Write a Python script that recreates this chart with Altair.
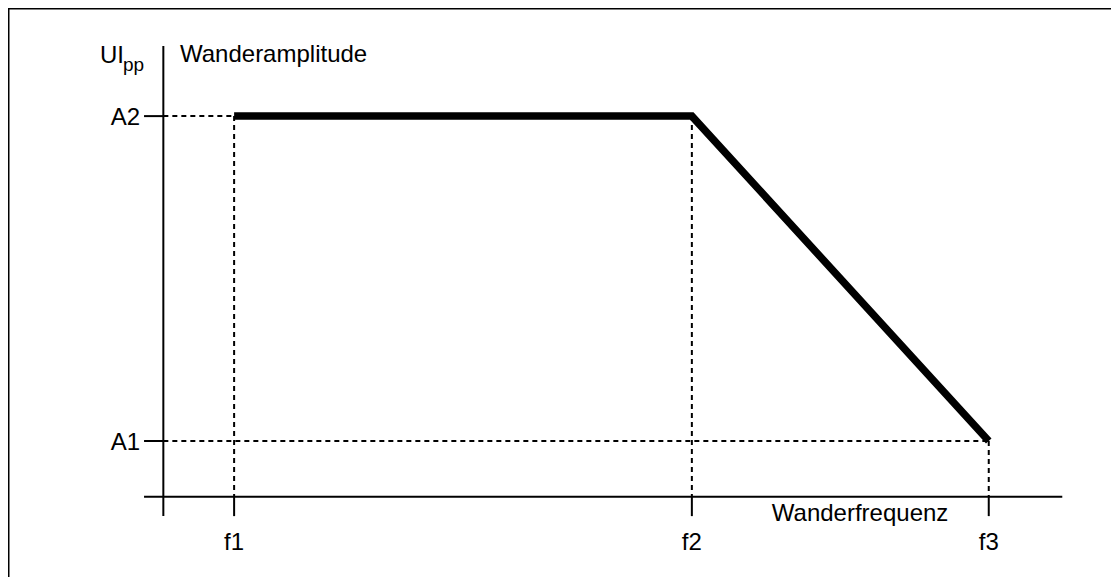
import altair as alt
import pandas as pd

# ---- data (abstract diagram units) ----
freq_labels = ["f1", "f2", "f3"]
freq_pos = [2.46, 7.44, 10.67]
amp_labels = ["A1", "A2"]
amp_pos = [2.39, 8.10]

# mask curve: flat at A2 from f1 to f2, then falling to A1 at f3
curve_x = [freq_pos[0], freq_pos[1], freq_pos[2]]
curve_y = [amp_pos[1], amp_pos[1], amp_pos[0]]

# axis geometry (diagram units)
y_axis_x = 1.69
x_axis_y = 1.41
x_axis_start = 1.48
x_axis_end = 11.47
y_axis_top = 9.33
y_axis_bottom = 1.07

X_MAX = 12.0
Y_MIN = 0.0
Y_MAX = 10.0

FONT = "Liberation Sans"
FS = 24

xs = alt.Scale(domain=[0, X_MAX], nice=False, zero=False)
ys = alt.Scale(domain=[Y_MIN, Y_MAX], nice=False, zero=False)

def X(field="x"):
    return alt.X(f"{field}:Q", scale=xs, axis=None)

def Y(field="y"):
    return alt.Y(f"{field}:Q", scale=ys, axis=None)

# frame (left and top edges only)
frame_rows = [
    {"x": 0.0, "x2": 0.0, "y": Y_MIN, "y2": Y_MAX},
    {"x": 0.0, "x2": X_MAX, "y": Y_MAX, "y2": Y_MAX},
]
frame = alt.Chart(pd.DataFrame(frame_rows)).mark_rule(
    color="black", strokeWidth=3
).encode(x=X(), x2="x2:Q", y=Y(), y2="y2:Q")

# dashed guide lines
dash_rows = [
    {"x": y_axis_x, "x2": freq_pos[0], "y": amp_pos[1], "y2": amp_pos[1]},
    {"x": y_axis_x, "x2": freq_pos[2], "y": amp_pos[0], "y2": amp_pos[0]},
    {"x": freq_pos[0], "x2": freq_pos[0], "y": amp_pos[1], "y2": x_axis_y},
    {"x": freq_pos[1], "x2": freq_pos[1], "y": amp_pos[1], "y2": x_axis_y},
    {"x": freq_pos[2], "x2": freq_pos[2], "y": amp_pos[0], "y2": x_axis_y},
]
dashes = alt.Chart(pd.DataFrame(dash_rows)).mark_rule(
    color="black", strokeWidth=2, strokeDash=[5, 4]
).encode(x=X(), x2="x2:Q", y=Y(), y2="y2:Q")

# axis lines and ticks
solid_rows = [
    {"x": y_axis_x, "x2": y_axis_x, "y": y_axis_bottom, "y2": y_axis_top},
    {"x": x_axis_start, "x2": x_axis_end, "y": x_axis_y, "y2": x_axis_y},
]
for a in amp_pos:
    solid_rows.append({"x": x_axis_start, "x2": y_axis_x, "y": a, "y2": a})
for f in freq_pos:
    solid_rows.append({"x": f, "x2": f, "y": x_axis_y, "y2": y_axis_bottom})
solids = alt.Chart(pd.DataFrame(solid_rows)).mark_rule(
    color="black", strokeWidth=2
).encode(x=X(), x2="x2:Q", y=Y(), y2="y2:Q")

# thick curve
curve = alt.Chart(pd.DataFrame({"x": curve_x, "y": curve_y, "o": [0, 1, 2]})).mark_line(
    color="black", strokeWidth=7.5, strokeCap="butt", strokeJoin="miter"
).encode(x=X(), y=Y(), order="o:Q")

# tick labels
amp_text = alt.Chart(pd.DataFrame({"y": amp_pos, "t": amp_labels, "x": [1.436] * 2})).mark_text(
    font=FONT, fontSize=FS, align="right", baseline="alphabetic", dy=8.5, color="black"
).encode(x=X(), y=Y(), text="t:N")

freq_text = alt.Chart(pd.DataFrame({"x": freq_pos, "t": freq_labels, "y": [0.475] * 3})).mark_text(
    font=FONT, fontSize=FS, align="center", baseline="alphabetic", color="black"
).encode(x=X(), y=Y(), text="t:N")

# axis titles
title_left = alt.Chart(pd.DataFrame({
    "x": [1.001, 1.871], "y": [9.03, 9.05], "t": ["UI", "Wanderamplitude"]
})).mark_text(
    font=FONT, fontSize=FS, align="left", baseline="alphabetic", color="black"
).encode(x=X(), y=Y(), text="t:N")
title_center = alt.Chart(pd.DataFrame({
    "x": [9.27], "y": [0.98], "t": ["Wanderfrequenz"]
})).mark_text(
    font=FONT, fontSize=FS, align="center", baseline="alphabetic", color="black"
).encode(x=X(), y=Y(), text="t:N")
sub = alt.Chart(pd.DataFrame({"x": [1.251], "y": [8.89], "t": ["pp"]})).mark_text(
    font=FONT, fontSize=19, align="left", baseline="alphabetic", color="black"
).encode(x=X(), y=Y(), text="t:N")

chart = alt.layer(
    frame, dashes, solids, curve, amp_text, freq_text, title_left, title_center, sub
).properties(
    width=1103, height=569, autosize=alt.AutoSizeParams(type="none"), padding=0
).configure_view(stroke=None)

chart.save("out.html", embed_options={"renderer": "svg", "actions": False})
